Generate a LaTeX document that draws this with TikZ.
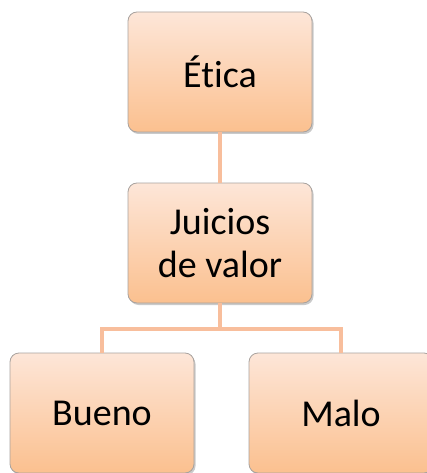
\documentclass[tikz,border=0pt]{standalone}
\usepackage{fontspec}
\setmainfont[Ligatures=NoCommon]{Carlito}
\usetikzlibrary{shadows}
\definecolor{boxtop}{HTML}{FDE6D8}
\definecolor{boxbot}{HTML}{FBC08F}
\definecolor{boxedge}{HTML}{A8A29E}
\definecolor{linkc}{HTML}{F8BE9C}
\begin{document}
\begin{tikzpicture}[x=1pt,y=-1pt,
  box/.style={draw=boxedge, line width=0.8pt, rounded corners=9pt,
    top color=boxtop, bottom color=boxbot,
    minimum width=184pt, minimum height=120pt, align=center,
    font=\fontsize{38}{43}\selectfont,
    drop shadow={shadow xshift=1.5pt, shadow yshift=-2pt, opacity=0.35, fill=black!60}},
  link/.style={draw=linkc, line width=4.5pt}]
\useasboundingbox (0,0) rectangle (427,473);
\begin{scope}
\clip (0,0) rectangle (427,473);
\node[box] (etica) at (220,72) {Ética};
\node[box] (juicios) at (220,243) {Juicios\\de valor};
\node[box] (bueno) at (102,413) {Bueno};
\node[box] (malo) at (341,413) {Malo};
\coordinate (mid) at (220,329);
\draw[link] (etica.south) -- (juicios.north);
\draw[link] (juicios.south) -- (mid);
\draw[link] (bueno.north) |- (mid) -| (malo.north);
\end{scope}
\end{tikzpicture}
\end{document}
